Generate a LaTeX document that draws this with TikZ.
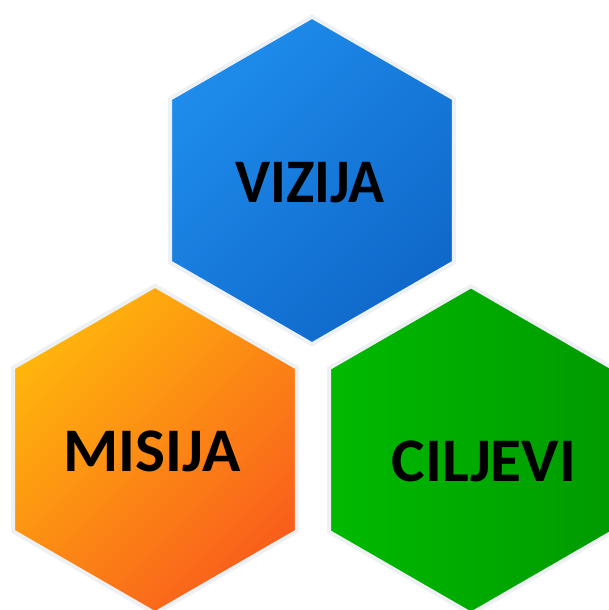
\documentclass[tikz,border=0pt]{standalone}
\usepackage{fontspec}
\setmainfont{Carlito}
\usetikzlibrary{shapes.geometric}
\definecolor{halo}{HTML}{EEF1F4}
\definecolor{blueA}{HTML}{1E8CEC}
\definecolor{blueB}{HTML}{0F68CA}
\definecolor{orangeA}{HTML}{FFB50C}
\definecolor{orangeB}{HTML}{F95E1C}
\definecolor{greenA}{HTML}{00BA00}
\definecolor{greenB}{HTML}{009A00}
\tikzstyle{hexa} = [regular polygon, regular polygon sides=6, shape border rotate=30, minimum size=245.7pt, inner sep=0pt, draw=halo, line width=3pt]
\tikzstyle{word} = [font=\fontsize{46.5pt}{50pt}\selectfont\bfseries, text=black, inner sep=0pt]

\begin{document}
\begin{tikzpicture}[x=0.75pt, y=-0.75pt]
\useasboundingbox (0,0) rectangle (608,610);
\node (hexV) [hexa, top color=blueA, bottom color=blueB, shading angle=45] at (312,180.5) {};
\node (hexM) [hexa, top color=orangeA, bottom color=orangeB, shading angle=45] at (155,449.5) {};
\node (hexC) [hexa, left color=greenA, right color=greenB] at (471,450) {};

\node (txtV) [word, xscale=0.955] at (310,183) {VIZIJA};
\node (txtM) [word, xscale=1.02] at (152,451) {MISIJA};
\node (txtC) [word, xscale=1.02] at (484,461) {CILJEVI};
\end{tikzpicture}
\end{document}
